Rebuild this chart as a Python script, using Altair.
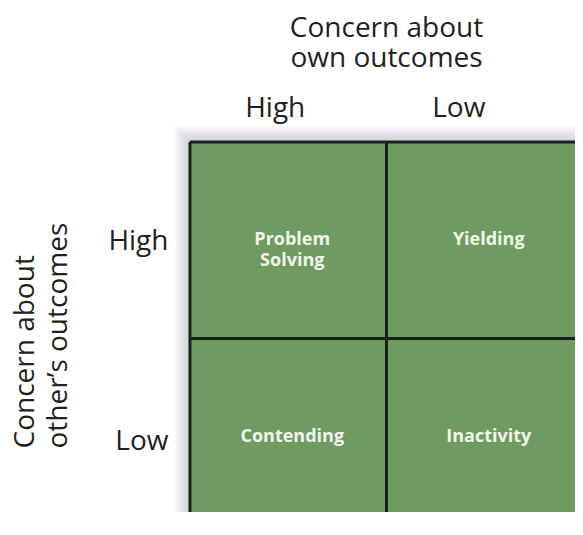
import altair as alt
import pandas as pd

# ---- data ----
own_levels = ["High", "Low", "High", "Low"]          # concern about own outcomes (columns)
other_levels = ["High", "High", "Low", "Low"]        # concern about other's outcomes (rows)
strategies = ["Problem\nSolving", "Yielding", "Contending", "Inactivity"]

level_order = ["High", "Low"]
x_title = ["Concern about", "own outcomes"]
y_title = ["Concern about", "other\u2019s outcomes"]

cells = pd.DataFrame({"own": own_levels, "other": other_levels, "strategy": strategies})
frame = pd.DataFrame({"own": [level_order[0]], "own_end": [level_order[-1]],
                      "other": [level_order[0]], "other_end": [level_order[-1]]})
dividers = pd.DataFrame({"own": level_order, "other": level_order,
                         "span_start": [level_order[0]] * 2, "span_end": [level_order[-1]] * 2})

FONT = "Open Sans"
GREEN = "#6f9b63"
LINE = "#17221a"
TEXT_DARK = "#231f20"
TEXT_LIGHT = "#eff5e8"

# the grid runs off the right and bottom edges of the picture, as in the reference
x_scale = alt.Scale(domain=level_order, paddingInner=0, paddingOuter=0, range=[0, 393])
y_scale = alt.Scale(domain=level_order, paddingInner=0, paddingOuter=0, range=[0, 393])

x_axis = alt.Axis(
    orient="top", ticks=False, domain=False, grid=False,
    labelFont=FONT, labelFontSize=28, labelColor=TEXT_DARK, labelAngle=0,
    labelBaseline="alphabetic", labelPadding=26,
    labelOffset={"condition": {"test": "datum.value == 'High'", "value": -13}, "value": -26},
    title=x_title, titleFont=FONT, titleFontSize=28, titleFontWeight="normal",
    titleColor=TEXT_DARK, titleLineHeight=30, titleAlign="center",
    titleBaseline="alphabetic", titleX=196, titleY=-106,
)
y_axis = alt.Axis(
    orient="left", ticks=False, domain=False, grid=False,
    labelFont=FONT, labelFontSize=28, labelColor=TEXT_DARK,
    labelAlign="right", labelBaseline="alphabetic", labelPadding=22,
    labelOffset={"condition": {"test": "datum.value == 'High'", "value": 10}, "value": 13},
    title=y_title, titleFont=FONT, titleFontSize=28, titleFontWeight="normal",
    titleColor=TEXT_DARK, titleLineHeight=33, titleAngle=-90, titleAlign="left",
    titleBaseline="alphabetic", titleX=-157, titleY=306,
)

# soft shadow around the whole grid
shadow_layers = []
for k in [2, 4, 6, 8, 10, 12, 14, 16]:
    shadow_layers.append(
        alt.Chart(frame).mark_rect(
            fill="#66667c", opacity=0.04,
            xOffset=-k, x2Offset=k, yOffset=-k, y2Offset=k,
        ).encode(
            x=alt.X("own:N", scale=x_scale, axis=x_axis, bandPosition=0),
            x2=alt.X2("own_end", bandPosition=1),
            y=alt.Y("other:N", scale=y_scale, axis=y_axis, bandPosition=0),
            y2=alt.Y2("other_end", bandPosition=1),
        )
    )

grid = alt.Chart(cells).mark_rect(fill=GREEN).encode(
    x=alt.X("own:N", scale=x_scale, axis=x_axis),
    y=alt.Y("other:N", scale=y_scale, axis=y_axis),
)

v_lines = alt.Chart(dividers).mark_rule(color=LINE, strokeWidth=3).encode(
    x=alt.X("own:N", scale=x_scale, axis=x_axis, bandPosition=0),
    y=alt.Y("span_start:N", scale=y_scale, axis=y_axis, bandPosition=0),
    y2=alt.Y2("span_end", bandPosition=1),
)
h_lines = alt.Chart(dividers).mark_rule(color=LINE, strokeWidth=3).encode(
    y=alt.Y("other:N", scale=y_scale, axis=y_axis, bandPosition=0),
    x=alt.X("span_start:N", scale=x_scale, axis=x_axis, bandPosition=0),
    x2=alt.X2("span_end", bandPosition=1),
)

labels = alt.Chart(cells).mark_text(
    font=FONT, fontSize=18, fontWeight="bold", color=TEXT_LIGHT,
    lineBreak="\n", lineHeight=21, align="center", baseline="middle", dx=4,
).encode(
    x=alt.X("own:N", scale=x_scale, axis=x_axis),
    y=alt.Y("other:N", scale=y_scale, axis=y_axis),
    text="strategy:N",
)

chart = alt.layer(*shadow_layers, grid, v_lines, h_lines, labels).properties(
    width=385, height=370,
    autosize=alt.AutoSizeParams(type="none"),
    padding={"left": 182, "top": 134, "right": 0, "bottom": 0},
    background="white",
).configure_view(stroke=None)

chart.save("out.html", embed_options={"renderer": "svg", "actions": False})
